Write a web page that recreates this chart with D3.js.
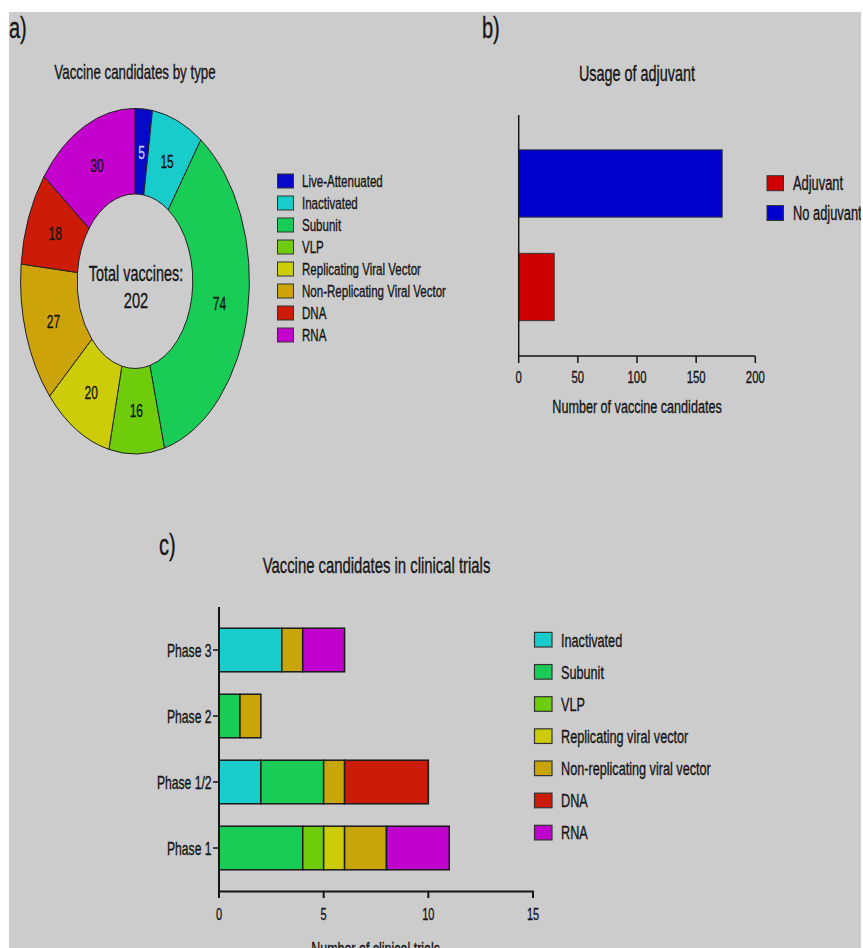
<!DOCTYPE html>
<html><head><meta charset="utf-8">
<script src="https://cdn.jsdelivr.net/npm/d3@7"></script>
<style>html,body{margin:0;padding:0;background:#fff;overflow:hidden}svg{display:block}</style>
</head><body>
<script>
// ---------- data ----------
const pieTypes = ["Live-Attenuated","Inactivated","Subunit","VLP","Replicating Viral Vector","Non-Replicating Viral Vector","DNA","RNA"];
const pieValues = [5,15,74,16,20,27,18,30];
const pieColors = ["#0808c8","#19cccc","#19cc55","#6ecc0a","#cccc08","#cca308","#cc1c08","#c400cc"];
const pieTotalLabel = "202";

const adjCategories = ["No adjuvant","Adjuvant"];
const adjValues = [172,30];
const adjColors = ["#0000cc","#cc0000"];
const adjLegend = ["Adjuvant","No adjuvant"];
const adjTicks = [0,50,100,150,200];

const phases = ["Phase 3","Phase 2","Phase 1/2","Phase 1"];
const trialSeries = ["Inactivated","Subunit","VLP","Replicating viral vector","Non-replicating viral vector","DNA","RNA"];
const trialColors = ["#19cccc","#19cc55","#6ecc0a","#cccc08","#c8a508","#cc1c08","#c000cc"];
const inactivated = [3,0,2,0];
const subunit = [0,1,3,4];
const vlp = [0,0,0,1];
const replicating = [0,0,0,1];
const nonReplicating = [1,1,1,2];
const dna = [0,0,4,0];
const rna = [2,0,0,3];
const trialTicks = [0,5,10,15];

// ---------- setup ----------
const W = 863, H = 948, SX = 0.667, FONT = "'Liberation Sans', Arial, sans-serif", INK = "#151515";
const svg = d3.select("body").append("svg").attr("width", W).attr("height", H);
svg.append("defs").append("clipPath").attr("id","clip").append("rect")
  .attr("x",9).attr("y",12).attr("width",852).attr("height",936);
const root = svg.append("g").attr("clip-path","url(#clip)");
root.append("rect").attr("x",9).attr("y",12).attr("width",852).attr("height",936).attr("fill","#cccccc");

function txt(g, s, x, y, size, anchor, color) {
  const c = color || INK;
  return g.append("text").attr("transform", `translate(${x},${y}) scale(${SX},1)`)
    .attr("text-anchor", anchor || "start").attr("font-family", FONT)
    .attr("font-size", size).attr("fill", c)
    .attr("stroke", c).attr("stroke-width", 0.35).text(s);
}

// ---------- panel a ----------
const ga = root.append("g");
txt(ga, "a)", 9, 38, 30);
txt(ga, "Vaccine candidates by type", 135, 79, 20, "middle");
const cx = 135, cy = 281.2, R = 114.4, SY = 1.51;
const pie = d3.pie().sort(null).value(d => d)(pieValues);
const arc = d3.arc().innerRadius(R * 0.505).outerRadius(R);
const labelArc = d3.arc().innerRadius(R * 0.75).outerRadius(R * 0.75);
const donut = ga.append("g").attr("transform", `translate(${cx},${cy}) scale(1,${SY})`);
donut.selectAll("path").data(pie).join("path")
  .attr("d", arc).attr("fill", (d,i) => pieColors[i])
  .attr("stroke", "#222").attr("stroke-width", 1).attr("vector-effect","non-scaling-stroke");
pie.forEach((d,i) => {
  const c = labelArc.centroid(d);
  txt(ga, pieValues[i], cx + c[0], cy + c[1]*SY + 6.5, 18, "middle", i === 0 ? "#c8c8ff" : INK);
});
txt(ga, "Total vaccines:", 136, 281, 21.6, "middle");
txt(ga, pieTotalLabel, 136, 308, 22, "middle");
const legA = ga.append("g");
pieTypes.forEach((t,i) => {
  const yc = 181 + i * 22;
  legA.append("rect").attr("x",277.5).attr("y",yc-7).attr("width",16).attr("height",14)
    .attr("fill",pieColors[i]).attr("stroke","#333").attr("stroke-width",1);
  txt(legA, t, 302, yc + 6.2, 17.3);
});

// ---------- panel b ----------
const gb = root.append("g");
txt(gb, "b)", 482, 38, 30);
txt(gb, "Usage of adjuvant", 637, 81, 21.6, "middle");
const xb = d3.scaleLinear().domain([0,200]).range([518.7,755.3]);
const yb = d3.scaleBand().domain(adjCategories).range([131.75,338.75]).paddingInner(0.35).paddingOuter(0.175);
gb.selectAll("rect.bar").data(adjCategories).join("rect").attr("class","bar")
  .attr("x", xb(0)).attr("y", d => yb(d)).attr("height", yb.bandwidth())
  .attr("width", (d,i) => xb(adjValues[i]) - xb(0))
  .attr("fill", (d,i) => adjColors[i]).attr("stroke","#333").attr("stroke-width",1);
gb.append("line").attr("x1",xb(0)).attr("x2",xb(0)).attr("y1",115).attr("y2",356.5).attr("stroke",INK).attr("stroke-width",1.5);
gb.append("line").attr("x1",xb(0)).attr("x2",xb(200)).attr("y1",356).attr("y2",356).attr("stroke",INK).attr("stroke-width",1.5);
adjTicks.forEach(t => {
  gb.append("line").attr("x1",xb(t)).attr("x2",xb(t)).attr("y1",356).attr("y2",363).attr("stroke",INK).attr("stroke-width",1.5);
  txt(gb, t, xb(t), 383, 17, "middle");
});
txt(gb, "Number of vaccine candidates", 637, 413, 18.9, "middle");
adjLegend.forEach((t,i) => {
  const yc = 183.2 + i * 29.8;
  gb.append("rect").attr("x",767).attr("y",yc-7.5).attr("width",16.5).attr("height",15)
    .attr("fill", adjColors[adjCategories.indexOf(t)]).attr("stroke","#333").attr("stroke-width",1);
  txt(gb, t, 793, yc + 6.9, 19.3);
});

// ---------- panel c ----------
const gc = root.append("g");
txt(gc, "c)", 159, 555, 30);
txt(gc, "Vaccine candidates in clinical trials", 376.5, 573, 22.3, "middle");
const xc = d3.scaleLinear().domain([0,15]).range([219,533]);
const yc = d3.scaleBand().domain(phases).range([617,881]).paddingInner(0.34).paddingOuter(0.17);
const seriesArrays = [inactivated, subunit, vlp, replicating, nonReplicating, dna, rna];
const rows = phases.map((p,j) => {
  const o = {phase: p};
  trialSeries.forEach((s,k) => o[s] = seriesArrays[k][j]);
  return o;
});
const stacked = d3.stack().keys(trialSeries)(rows);
stacked.forEach((layer,k) => {
  gc.append("g").selectAll("rect").data(layer.filter(d => d[1] > d[0])).join("rect")
    .attr("x", d => xc(d[0])).attr("width", d => xc(d[1]) - xc(d[0]))
    .attr("y", d => yc(d.data.phase)).attr("height", yc.bandwidth())
    .attr("fill", trialColors[k]).attr("stroke","#1a1a1a").attr("stroke-width",1.5);
});
gc.append("line").attr("x1",219).attr("x2",219).attr("y1",607).attr("y2",892.5).attr("stroke",INK).attr("stroke-width",2);
gc.append("line").attr("x1",219).attr("x2",xc(15)+1).attr("y1",891.5).attr("y2",891.5).attr("stroke",INK).attr("stroke-width",2);
trialTicks.forEach(t => {
  gc.append("line").attr("x1",xc(t)).attr("x2",xc(t)).attr("y1",891).attr("y2",898).attr("stroke",INK).attr("stroke-width",2);
  txt(gc, t, xc(t), 919.5, 16.5, "middle");
});
phases.forEach(p => {
  const ym = yc(p) + yc.bandwidth()/2;
  gc.append("line").attr("x1",213).attr("x2",219).attr("y1",ym).attr("y2",ym).attr("stroke",INK).attr("stroke-width",1.5);
  txt(gc, p, 211.5, ym + 6.5, 18.2, "end");
});
txt(gc, "Number of clinical trials", 375.6, 955, 18.7, "middle");
trialSeries.forEach((t,i) => {
  const ym = 639.7 + i * 32.15;
  gc.append("rect").attr("x",534.5).attr("y",ym-7.3).attr("width",17.5).attr("height",14.6)
    .attr("fill",trialColors[i]).attr("stroke","#333").attr("stroke-width",1.2);
  txt(gc, t, 561, ym + 6.8, 19);
});
</script>
</body></html>
